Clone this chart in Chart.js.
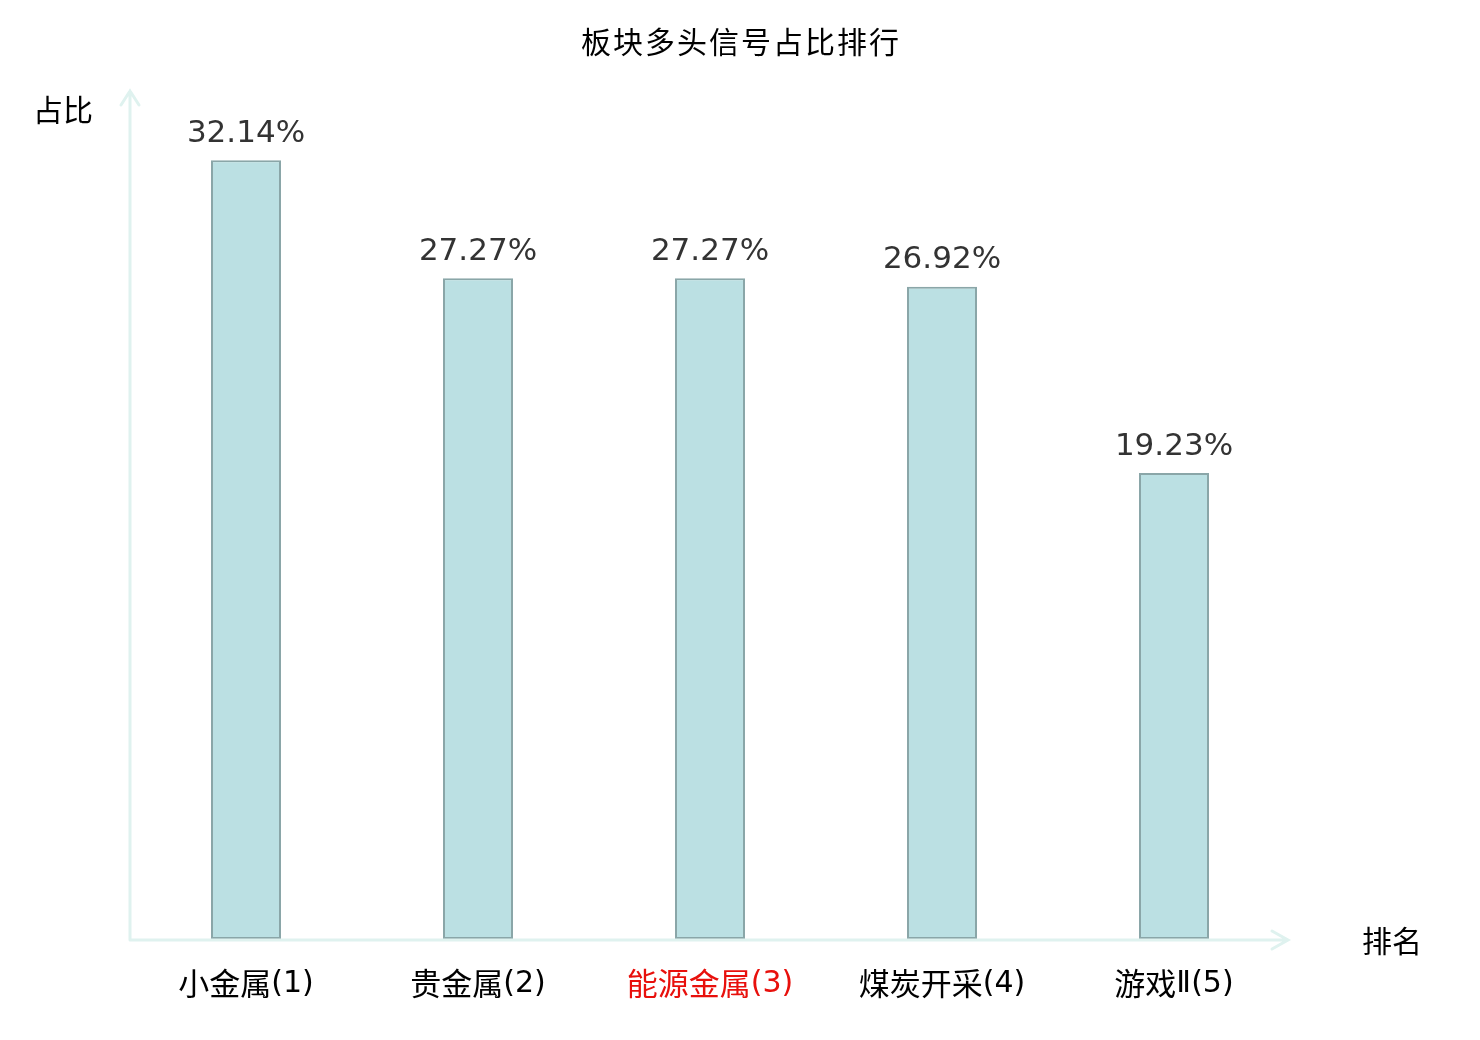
<!DOCTYPE html>
<html>
<head>
<meta charset="utf-8">
<script src="https://cdn.jsdelivr.net/npm/chart.js@4/dist/chart.umd.min.js"></script>
<style>
  html, body { margin: 0; padding: 0; background: #fff; }
  #wrap { width: 1480px; height: 1040px; }
</style>
</head>
<body>
<div id="wrap"><canvas id="rankChart"></canvas></div>
<script>
// chart data
const categories = ['小金属(1)', '贵金属(2)', '能源金属(3)', '煤炭开采(4)', '游戏Ⅱ(5)'];
const shares = [32.14, 27.27, 27.27, 26.92, 19.23];
const highlightIndex = 2;  // this sector is shown in red

const CJK = '"Noto Sans CJK SC", "Noto Sans", sans-serif';
const AXIS_COLOR = '#dff2ef';

// Draw a category label: Chinese part in the CJK font, the rest in DejaVu
function drawCategory(ctx, text, cx, cy) {
    const m = text.match(/^([\u4e00-\u9fff]+)(.*)$/);
    const head = m ? m[1] : text;
    const tail = m ? m[2] : '';
    const headFont = '31px ' + CJK;
    const tailFont = '30px "DejaVu Sans", sans-serif';
    ctx.font = headFont;
    const w1 = ctx.measureText(head).width;
    ctx.font = tailFont;
    const w2 = ctx.measureText(tail).width;
    let x = cx - (w1 + w2) / 2;
    ctx.textAlign = 'left';
    ctx.font = headFont;
    ctx.fillText(head, x, cy);
    ctx.font = tailFont;
    ctx.fillText(tail, x + w1, cy + 1);
    ctx.textAlign = 'center';
}

// Draw the title, arrowed axes, value labels and category labels
const decorPlugin = {
    id: 'decor',
    afterDatasetsDraw(chart) {
        const ctx = chart.ctx;
        const area = chart.chartArea;
        const xScale = chart.scales.x;
        const meta = chart.getDatasetMeta(0);

        ctx.save();

        // axes with arrows
        ctx.strokeStyle = AXIS_COLOR;
        ctx.lineWidth = 3;
        ctx.lineCap = 'round';
        ctx.beginPath();
        ctx.moveTo(area.left, area.bottom + 1);
        ctx.lineTo(area.left, area.top);
        ctx.moveTo(area.left - 9, area.top + 14);
        ctx.lineTo(area.left, area.top);
        ctx.lineTo(area.left + 9, area.top + 14);
        ctx.moveTo(area.left, area.bottom + 1);
        ctx.lineTo(area.right - 2, area.bottom + 1);
        ctx.moveTo(area.right - 18, area.bottom - 8);
        ctx.lineTo(area.right - 2, area.bottom + 1);
        ctx.lineTo(area.right - 18, area.bottom + 10);
        ctx.stroke();

        // title
        ctx.fillStyle = '#000';
        ctx.textAlign = 'center';
        ctx.textBaseline = 'middle';
        ctx.font = '30px ' + CJK;
        ctx.letterSpacing = '2px';
        ctx.fillText('板块多头信号占比排行', 741, 42);
        ctx.letterSpacing = '0px';

        // axis names
        ctx.font = '30px ' + CJK;
        ctx.fillText('占比', 63, 110);
        ctx.fillText('排名', 1392, 941);

        // value labels above the bars
        ctx.fillStyle = '#333';
        ctx.font = '31px "DejaVu Sans", sans-serif';
        meta.data.forEach((bar, i) => {
            ctx.fillText(shares[i].toFixed(2) + '%', bar.x, bar.y - 26.5);
        });

        // category labels under the axis
        categories.forEach((name, i) => {
            ctx.fillStyle = i === highlightIndex ? '#e8100c' : '#000';
            drawCategory(ctx, name, xScale.getPixelForValue(i), area.bottom + 44);
        });

        ctx.restore();
    }
};

const ctx = document.getElementById('rankChart').getContext('2d');
new Chart(ctx, {
    type: 'bar',
    data: {
        labels: categories,
        datasets: [{
            data: shares,
            backgroundColor: '#bbe0e3',
            borderColor: '#8aa6a8',
            borderWidth: 2,
            borderSkipped: false,
            barPercentage: 1,
            categoryPercentage: 70 / 232
        }]
    },
    options: {
        responsive: true,
        maintainAspectRatio: false,
        animation: false,
        devicePixelRatio: 1,
        layout: {
            padding: { left: 130, right: 190, top: 91, bottom: 101 }
        },
        plugins: {
            legend: { display: false },
            tooltip: { enabled: false }
        },
        scales: {
            x: { display: false },
            y: { display: false, min: 0, max: 35 }
        }
    },
    plugins: [decorPlugin]
});
</script>
</body>
</html>
